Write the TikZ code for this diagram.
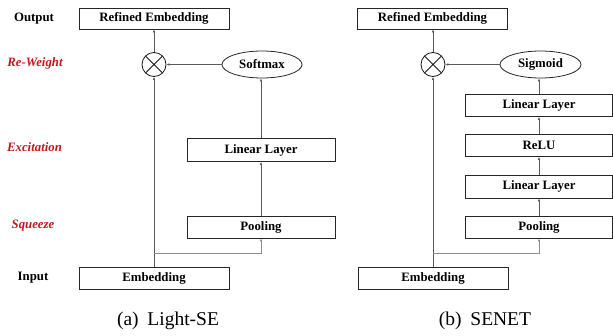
\documentclass[tikz,border=0pt]{standalone}
\usepackage{fontspec}
\setmainfont{Liberation Serif}
\usetikzlibrary{arrows.meta,shapes.geometric}
\definecolor{lred}{RGB}{196,22,28}
\begin{document}
\begin{tikzpicture}[x=1pt,y=-1pt,
  lab/.style={font=\fontsize{12.8}{14}\selectfont\bfseries},
  rlab/.style={font=\fontsize{12.8}{14}\selectfont\bfseries\itshape,text=lred},
  box/.style={draw=black!85,line width=0.8pt,minimum width=149pt,minimum height=22pt,inner sep=0pt,font=\fontsize{12.8}{14}\selectfont\bfseries},
  oval/.style={ellipse,draw=black!85,line width=0.8pt,minimum width=80pt,minimum height=27pt,inner sep=0pt,font=\fontsize{12.8}{14}\selectfont\bfseries},
  mult/.style={circle,draw=black!90,line width=0.8pt,minimum size=24pt,inner sep=0pt,path picture={
     \draw[line width=0.8pt,black!90] (path picture bounding box.south west)--(path picture bounding box.north east)
       (path picture bounding box.north west)--(path picture bounding box.south east);}},
  conn/.style={draw=black!65,line width=0.7pt},
  arr/.style={conn,-{Latex[length=3pt,width=2.6pt]}},
  captxt/.style={font=\fontsize{19.5}{22}\selectfont}
]
\useasboundingbox (0,0) rectangle (613,335);

% side labels
\node[lab] (lout) at (34,18.5) {Output};
\node[rlab] (lrw) at (35,63) {Re-Weight};
\node[rlab] (lex) at (34.5,147) {Excitation};
\node[rlab] (lsq) at (33,226) {Squeeze};
\node[lab] (lin) at (33,278) {Input};

% ---- left panel: Light-SE
\node[box,minimum width=150pt,minimum height=21pt] (aref) at (154,18.5) {Refined Embedding};
\node[mult] (amul) at (154,64.5) {};
\node[oval] (asoft) at (262,64.5) {Softmax};
\node[box,minimum width=148pt,minimum height=23pt] (alin) at (261,150) {Linear Layer};
\node[box,minimum width=148pt] (apool) at (261,227) {Pooling};
\node[box,minimum width=150pt] (aemb) at (154,278) {Embedding};
\coordinate (abr) at (154,253);

\draw[arr] (aemb.north) -- (amul.south);
\draw[arr,draw=black!45] (abr) -| (apool.south);
\draw[arr] (apool.north) -- (alin.south);
\draw[arr] (alin.north) -- (alin.north |- asoft.south);
\draw[arr] (asoft.west) -- (amul.east);
\draw[arr] (amul.north) -- (aref.south);

\node[captxt] (capa) at (168,321) {(a)\hspace{0.45em}Light-SE};

% ---- right panel: SENET
\node[box,minimum width=150pt,minimum height=21pt] (bref) at (432.5,18.5) {Refined Embedding};
\node[mult] (bmul) at (433,64.5) {};
\node[oval,minimum width=81pt] (bsig) at (540.5,64.5) {Sigmoid};
\node[box,minimum width=147pt] (blin1) at (539,105.5) {Linear Layer};
\node[box,minimum width=147pt] (brelu) at (539,145.5) {ReLU};
\node[box,minimum width=147pt,minimum height=23pt] (blin2) at (539,186.5) {Linear Layer};
\node[box,minimum width=147pt] (bpool) at (539,227) {Pooling};
\node[box,minimum width=150pt] (bemb) at (433,278) {Embedding};
\coordinate (bbr) at (433,253);

\draw[arr] (bemb.north) -- (bmul.south);
\draw[arr,draw=black!45] (bbr) -| (bpool.south);
\draw[arr] (bpool.north) -- (blin2.south);
\draw[arr] (blin2.north) -- (brelu.south);
\draw[arr] (brelu.north) -- (blin1.south);
\draw[arr] (blin1.north) -- (blin1.north |- bsig.south);
\draw[arr] (bsig.west) -- (bmul.east);
\draw[arr] (bmul.north) -- (bmul.north |- bref.south);

\node[captxt] (capb) at (485,321) {(b)\hspace{0.45em}SENET};
\end{tikzpicture}
\end{document}
